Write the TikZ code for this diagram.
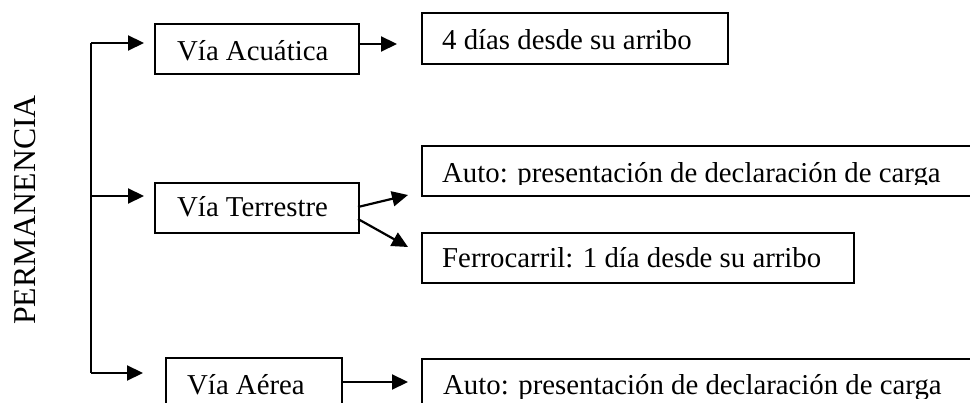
\documentclass[tikz,border=0pt]{standalone}
\usepackage{fontspec}
\setmainfont{Liberation Serif}
\usetikzlibrary{arrows.meta}
\begin{document}
\begin{tikzpicture}[x=1pt,y=-1pt,
  boxshape/.style={draw=black,line width=1.6pt,inner sep=0pt,anchor=north west},
  txt/.style={inner sep=0pt,anchor=base west,font=\fontsize{28.8}{34}\selectfont},
  arr/.style={line width=2.2pt,-{Triangle[length=16pt,width=15pt]}},
  trunk/.style={line width=2.2pt}]
\useasboundingbox (0,0) rectangle (970,403);
\clip (0,0) rectangle (970,403);
% boxes
\node[boxshape,minimum width=204pt,minimum height=50pt] (acu) at (154,23) {};
\node[boxshape,minimum width=306pt,minimum height=51pt] (dias) at (421,12) {};
\node[boxshape,minimum width=204pt,minimum height=50pt] (ter) at (154,182) {};
\node[boxshape,minimum width=570pt,minimum height=50pt] (auto1) at (421,145) {};
\node[boxshape,minimum width=432pt,minimum height=50pt] (ferro) at (421,232) {};
\node[boxshape,minimum width=176pt,minimum height=60pt] (aer) at (165,357) {};
\node[boxshape,minimum width=570pt,minimum height=60pt] (auto2) at (421,358) {};
% texts
\node[txt] (acut) at (177,61) {Vía Acuática};
\node[txt] (diast) at (442,50) {4 días desde su arribo};
\node[txt] (tert) at (177,217) {Vía Terrestre};
\begin{scope}
\clip (421,140) rectangle (970,185);
\node[txt] (auto1t) at (442,183) {Auto: presentación de declaración de carga};
\end{scope}
\node[txt] (ferrot) at (442,268) {Ferrocarril: 1 día desde su arribo};
\node[txt] (aert) at (187,395) {Vía Aérea};
\begin{scope}
\clip (421,350) rectangle (970,399);
\node[txt] (auto2t) at (443,395) {Auto: presentación de declaración de carga};
\end{scope}
\node[inner sep=0pt,rotate=90,font=\fontsize{31.8}{36}\selectfont] (perm) at (25,210) {PERMANENCIA};
% connectors
\coordinate (top) at (91,43);
\coordinate (mid) at (91,196);
\coordinate (bot) at (91,373);
\draw[trunk] (top) -- (bot);
\draw[arr,shorten >=10pt] (top) -- (acu.west |- top);
\draw[arr,shorten >=10pt] (mid) -- (ter.west |- mid);
\draw[arr,shorten >=22pt] (bot) -- (aer.west |- bot);
\coordinate (a1) at (358,44);
\draw[arr,shorten >=24pt] (a1) -- (dias.west |- a1);
\coordinate (t1) at (358,207);
\coordinate (t1e) at (408,195);
\draw[arr] (t1) -- (t1e);
\coordinate (t2) at (358,219);
\coordinate (t2e) at (408,247);
\draw[arr] (t2) -- (t2e);
\coordinate (r1) at (341,382);
\draw[arr,shorten >=13pt] (r1) -- (auto2.west |- r1);
\end{tikzpicture}
\end{document}
